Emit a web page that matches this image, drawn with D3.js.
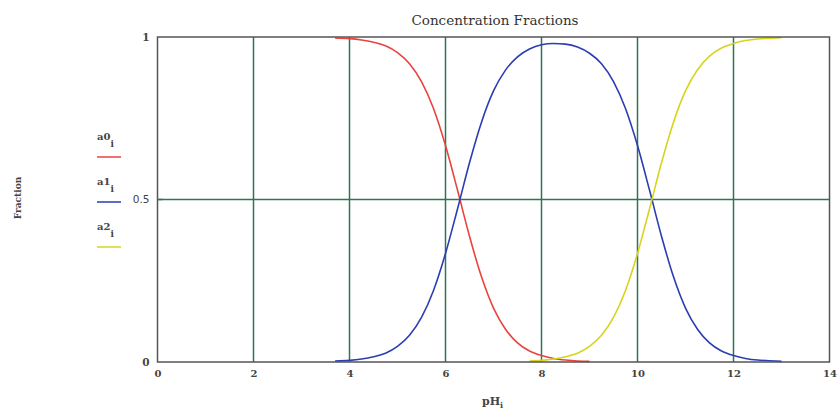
<!DOCTYPE html>
<html><head><meta charset="utf-8">
<script src="https://cdn.jsdelivr.net/npm/d3@7"></script>
<style>body{margin:0;background:#fff}svg{display:block}</style>
</head><body>
<svg id="chart" width="838" height="413"></svg>
<script>
const title = "Concentration Fractions";
const xTicks = [0, 2, 4, 6, 8, 10, 12, 14];
const yTicks = [0, 0.5, 1];
const yTickLabels = ["0", "0.5", "1"];
const gridX = [2, 4, 6, 8, 10, 12];
const gridY = [0.5];
const seriesNames = ["a0", "a1", "a2"];
const seriesColors = ["#e8433f", "#2b3db3", "#d6d41e"];
const pH = [3.7, 4.0, 4.25, 4.5, 4.75, 5.0, 5.25, 5.5, 5.75, 6.0, 6.25, 6.5, 6.75, 7.0, 7.25, 7.5, 7.75, 8.0, 8.25, 8.5, 8.75, 9.0, 9.25, 9.5, 9.75, 10.0, 10.25, 10.5, 10.75, 11.0, 11.25, 11.5, 11.75, 12.0, 12.25, 12.5, 12.75, 13.0];
const a0 = [0.997, 0.995, 0.991, 0.984, 0.973, 0.952, 0.918, 0.863, 0.780, 0.666, 0.529, 0.387, 0.262, 0.166, 0.101, 0.059, 0.034, 0.020, 0.011, 0.006, 0.003, 0.002, null, null, null, null, null, null, null, null, null, null, null, null, null, null, null, null];
const a1 = [0.003, 0.005, 0.009, 0.016, 0.027, 0.048, 0.082, 0.137, 0.220, 0.334, 0.471, 0.613, 0.738, 0.834, 0.898, 0.939, 0.963, 0.976, 0.980, 0.978, 0.969, 0.950, 0.918, 0.863, 0.780, 0.666, 0.529, 0.387, 0.262, 0.166, 0.101, 0.059, 0.034, 0.020, 0.011, 0.006, 0.004, 0.002];
const a2 = [null, null, null, null, null, null, null, null, null, null, null, null, null, null, null, null, 0.003, 0.005, 0.009, 0.016, 0.027, 0.048, 0.082, 0.137, 0.220, 0.334, 0.471, 0.613, 0.738, 0.834, 0.899, 0.941, 0.966, 0.980, 0.989, 0.994, 0.996, 0.998];

const svg = d3.select("#chart");
const L = 157.5, R = 829.5, T = 37, B = 362;
const x = d3.scaleLinear().domain([0, 14]).range([L, R]);
const y = d3.scaleLinear().domain([0, 1]).range([B, T]);
const serif = "'DejaVu Serif', 'Liberation Serif', serif";
const grid = "#2e7553";

// title
svg.append("text").attr("x", 495).attr("y", 25).attr("text-anchor", "middle")
  .attr("font-family", serif).attr("font-size", 13.5).attr("fill", "#333").text(title);

// grid lines
svg.selectAll(".gx").data(gridX).join("line")
  .attr("x1", d => x(d)).attr("x2", d => x(d)).attr("y1", T).attr("y2", B)
  .attr("stroke", grid).attr("stroke-width", 1.5);
svg.selectAll(".gy").data(gridY).join("line")
  .attr("x1", L).attr("x2", R).attr("y1", d => y(d)).attr("y2", d => y(d))
  .attr("stroke", grid).attr("stroke-width", 1.5);

// curves
const cols = [a0, a1, a2];
cols.forEach((vals, k) => {
  const pts = pH.map((p, i) => [p, vals[i]]);
  const line = d3.line().defined(d => d[1] != null)
    .x(d => x(d[0])).y(d => y(d[1])).curve(d3.curveMonotoneX);
  svg.append("path").datum(pts).attr("d", line).attr("fill", "none")
    .attr("stroke", seriesColors[k]).attr("stroke-width", 1.6);
});

// frame
svg.append("rect").attr("x", L).attr("y", T).attr("width", R - L).attr("height", B - T)
  .attr("fill", "none").attr("stroke", "#555").attr("stroke-width", 1.5);

// x axis labels
const xAxis = d3.axisBottom(x).tickValues(xTicks).tickSize(0).tickPadding(8).tickFormat(d3.format("d"));
const gx = svg.append("g").attr("transform", `translate(0,${B})`).call(xAxis);
gx.select(".domain").remove();
gx.selectAll("text").attr("font-family", serif).attr("font-weight", "bold")
  .attr("font-size", 10).attr("fill", "#444");

// y axis labels
const yAxis = d3.axisLeft(y).tickValues(yTicks).tickSize(0).tickPadding(8)
  .tickFormat((d, i) => yTickLabels[i]);
const gy = svg.append("g").attr("transform", `translate(${L},0)`).call(yAxis);
gy.select(".domain").remove();
gy.selectAll("text").attr("font-size", 10.5).attr("fill", "#444")
  .attr("font-family", (d) => d === 0.5 ? "'DejaVu Sans', sans-serif" : serif)
  .attr("font-weight", (d) => d === 0.5 ? "normal" : "bold");
svg.append("line").attr("x1", L).attr("x2", L + 5).attr("y1", y(0.5)).attr("y2", y(0.5))
  .attr("stroke", grid).attr("stroke-width", 1.5);

// axis titles
const xt = svg.append("text").attr("x", 482).attr("y", 405).attr("font-family", serif)
  .attr("font-weight", "bold").attr("font-size", 11).attr("fill", "#444");
xt.append("tspan").text("pH");
xt.append("tspan").attr("dy", 3).attr("font-size", 8).text("i");

svg.append("text").attr("transform", "translate(21,198) rotate(-90)").attr("text-anchor", "middle")
  .attr("font-family", serif).attr("font-weight", "bold").attr("font-size", 9).attr("fill", "#444")
  .text("Fraction");

// legend
const legendY = [140, 185, 230];
seriesNames.forEach((n, k) => {
  const t = svg.append("text").attr("x", 97).attr("y", legendY[k]).attr("font-family", serif)
    .attr("font-weight", "bold").attr("font-size", 10).attr("fill", "#444");
  t.append("tspan").text(n);
  t.append("tspan").attr("dy", 7).attr("font-size", 9).text("i");
  svg.append("line").attr("x1", 97).attr("x2", 121)
    .attr("y1", legendY[k] + 17).attr("y2", legendY[k] + 17)
    .attr("stroke", seriesColors[k]).attr("stroke-width", 1.5);
});
</script>
</body></html>
